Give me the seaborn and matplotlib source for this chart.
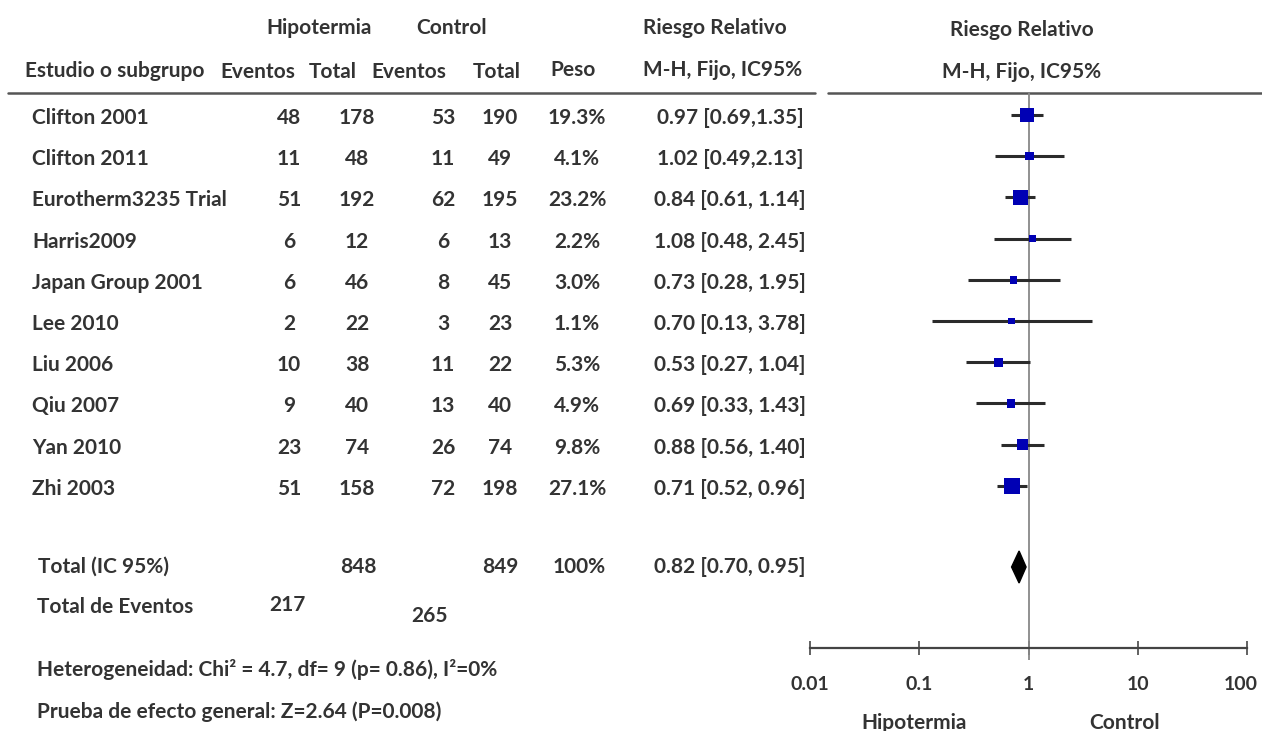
import numpy as np
import pandas as pd
import matplotlib
matplotlib.use("Agg")
import matplotlib.pyplot as plt
import matplotlib.transforms as mtransforms
import seaborn as sns

# Data
studies = ["Clifton 2001", "Clifton 2011", "Eurotherm3235 Trial", "Harris2009",
           "Japan Group 2001", "Lee 2010", "Liu 2006", "Qiu 2007", "Yan 2010", "Zhi 2003"]
hipo_events = [48, 11, 51, 6, 6, 2, 10, 9, 23, 51]
hipo_total = [178, 48, 192, 12, 46, 22, 38, 40, 74, 158]
ctrl_events = [53, 11, 62, 6, 8, 3, 11, 13, 26, 72]
ctrl_total = [190, 49, 195, 13, 45, 23, 22, 40, 74, 198]
peso = [19.3, 4.1, 23.2, 2.2, 3.0, 1.1, 5.3, 4.9, 9.8, 27.1]
rr = [0.97, 1.02, 0.84, 1.08, 0.73, 0.70, 0.53, 0.69, 0.88, 0.71]
rr_low = [0.69, 0.49, 0.61, 0.48, 0.28, 0.13, 0.27, 0.33, 0.56, 0.52]
rr_high = [1.35, 2.13, 1.14, 2.45, 1.95, 3.78, 1.04, 1.43, 1.40, 0.96]

total_hipo, total_ctrl = 848, 849
events_hipo, events_ctrl = 217, 265
total_rr, total_low, total_high = 0.82, 0.70, 0.95
tick_vals = [0.01, 0.1, 1, 10, 100]
tick_labels = ["0.01", "0.1", "1", "10", "100"]

sns.set_theme(style="white")
plt.rcParams['font.family'] = ['Lato', 'DejaVu Sans']
TXT = '#333333'
FS = 15

fig = plt.figure(figsize=(12.62, 7.31), dpi=100)

# background axes in pixel units for the table
bg = fig.add_axes([0, 0, 1, 1])
bg.set_xlim(0, 1262)
bg.set_ylim(731, 0)
bg.axis('off')

def t(x, y, s, ha='center', **kw):
    bg.text(x, y, s, ha=ha, va='center', fontsize=FS, fontweight='bold', color=TXT, **kw)

# headers
t(319, 28, "Hipotermia")
t(452, 28, "Control")
t(715, 28, "Riesgo Relativo")
t(1022, 30, "Riesgo Relativo")
t(25, 71, "Estudio o subgrupo", ha='left')
t(258, 72, "Eventos")
t(333, 72, "Total")
t(409, 72, "Eventos")
t(497, 72, "Total")
t(573, 70, "Peso")
t(723, 70, "M-H, Fijo, IC95%")
t(1022, 72, "M-H, Fijo, IC95%")
bg.plot([8, 815], [93, 93], color='#555555', lw=1.8)
bg.plot([828, 1262], [93, 93], color='#555555', lw=1.8)

row0, step = 115, 41.2
rows_y = [row0 + i * step for i in range(len(studies))]
for i, name in enumerate(studies):
    y = rows_y[i] + 3
    sep = ',' if i < 2 else ', '
    t(32, y, name, ha='left')
    t(289, y, str(hipo_events[i]))
    t(357, y, str(hipo_total[i]))
    t(443, y, str(ctrl_events[i]))
    t(500, y, str(ctrl_total[i]))
    t(577, y, f"{peso[i]:.1f}%")
    t(730, y, f"{rr[i]:.2f} [{rr_low[i]:.2f}{sep}{rr_high[i]:.2f}]")

total_y = 567
t(38, total_y, "Total (IC 95%)", ha='left')
t(358, total_y, str(total_hipo))
t(500, total_y, str(total_ctrl))
t(579, total_y, "100%")
t(730, total_y, f"{total_rr:.2f} [{total_low:.2f}, {total_high:.2f}]")
t(37, 607, "Total de Eventos", ha='left')
t(287, 605, str(events_hipo))
t(430, 616, str(events_ctrl))
t(37, 669, "Heterogeneidad: Chi² = 4.7, df= 9 (p= 0.86), I²=0%", ha='left')
t(37, 712, "Prueba de efecto general: Z=2.64 (P=0.008)", ha='left')

# forest panel, y in pixel units
ax = fig.add_axes([810 / 1262, (731 - 648) / 731, 437 / 1262, 555 / 731])
ax.set_xscale('log')
ax.set_xlim(0.01, 100)
ax.set_ylim(648, 93)
ax.patch.set_alpha(0)

df = pd.DataFrame({'rr': rr, 'low': rr_low, 'high': rr_high, 'peso': peso, 'y': rows_y})
ax.hlines(df['y'], df['low'], df['high'], color='#2b2b2b', lw=2.2, zorder=2)
sns.scatterplot(data=df, x='rr', y='y', size='peso', sizes=(22, 130), size_norm=(1.1, 27.1),
                marker='s', color='#0000b4', edgecolor='none', legend=False, ax=ax, zorder=3)
ax.vlines(1, 93, 660, color='#888888', lw=1.3, zorder=1, clip_on=False)

# pooled diamond
ax.fill([total_low, total_rr, total_high, total_rr], [total_y, total_y - 16, total_y, total_y + 16],
        color='black', zorder=4)

ax.set_xticks(tick_vals)
ax.set_xticklabels(tick_labels)
ax.minorticks_off()
ax.set_yticks([])
ax.set_xlabel('')
ax.set_ylabel('')
for s in ['top', 'left', 'right']:
    ax.spines[s].set_visible(False)
ax.spines['bottom'].set_color('#444444')
ax.spines['bottom'].set_linewidth(1.6)
ax.tick_params(axis='x', bottom=True, direction='inout', length=10, width=1.3, color='#555555',
               pad=15, labelsize=14, labelcolor=TXT)
labels = ax.get_xticklabels()
for lab in labels:
    lab.set_fontweight('bold')
# keep "100" inside the canvas like the reference
labels[-1].set_transform(labels[-1].get_transform() +
                         mtransforms.ScaledTranslation(-6 / 100, 0, fig.dpi_scale_trans))

t(914, 723, "Hipotermia")
t(1125, 723, "Control")

fig.savefig("out.png", dpi=100)
